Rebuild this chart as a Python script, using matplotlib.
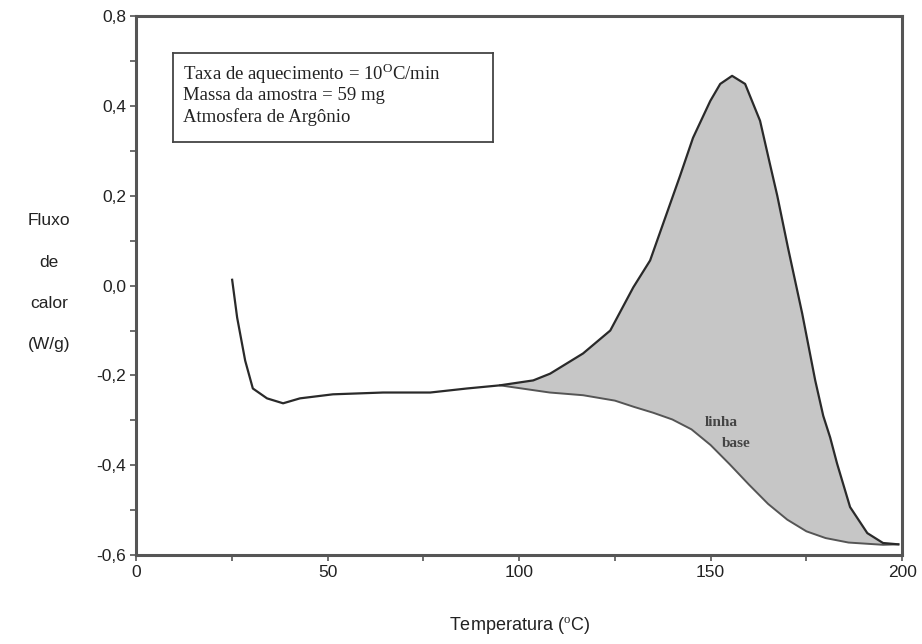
import matplotlib
matplotlib.use("Agg")
import matplotlib.pyplot as plt
from matplotlib.ticker import MultipleLocator, FixedLocator, FixedFormatter

plt.rcParams["font.family"] = ["Liberation Sans", "DejaVu Sans"]
plt.rcParams["mathtext.fontset"] = "custom"
plt.rcParams["mathtext.rm"] = "Liberation Sans"

# DSC curve (heat flow)
temp = [25.1, 26.4, 28.5, 30.5, 34.2, 38.4, 42.8, 51.4, 64.5, 76.8, 86.4, 95.0,
        103.7, 108.1, 116.7, 123.8, 129.8, 134.2, 137.6, 142.0, 145.4, 149.9,
        152.5, 155.6, 159.0, 162.9, 165.5, 167.4, 170.2, 173.9, 177.3, 179.4,
        181.2, 183.0, 186.4, 190.9, 195.0, 199.0]
flux = [0.013, -0.071, -0.167, -0.229, -0.251, -0.262, -0.251, -0.242, -0.238,
        -0.238, -0.229, -0.222, -0.211, -0.196, -0.151, -0.100, -0.004, 0.056,
        0.138, 0.244, 0.329, 0.411, 0.449, 0.467, 0.449, 0.367, 0.270, 0.200,
        0.084, -0.062, -0.211, -0.290, -0.338, -0.396, -0.493, -0.551, -0.573,
        -0.576]

# baseline under the peak
base_temp = [95.0, 108.0, 116.7, 125.0, 130.0, 135.0, 140.0, 145.0, 150.0, 155.0,
             160.0, 165.0, 170.0, 175.0, 180.0, 186.0, 195.0, 199.0]
base_flux = [-0.222, -0.238, -0.244, -0.256, -0.270, -0.283, -0.298, -0.320,
             -0.355, -0.398, -0.443, -0.486, -0.521, -0.547, -0.562, -0.572,
             -0.577, -0.576]

y_ticks = [-0.6, -0.4, -0.2, 0.0, 0.2, 0.4, 0.6]
y_tick_labels = ["-0,6", "-0,4", "-0,2", "0,0", "0,2", "0,4", "0,8"]
x_ticks = [0, 50, 100, 150, 200]
x_tick_labels = ["0", "50", "100", "150", "200"]

ylabel_lines = ["Fluxo", "de", "calor", "(W/g)"]
info_lines = ["Taxa de aquecimento = 10$^{\\mathrm{O}}$C/min",
              "Massa da amostra = 59 mg",
              "Atmosfera de Argônio"]

fig = plt.figure(figsize=(9.22, 6.44), dpi=100)
ax = fig.add_axes([0.1475, 0.138, 0.831, 0.837])

# shaded area between curve and baseline
peak_t = [t for t in temp if t >= 95.0]
peak_f = [f for t, f in zip(temp, flux) if t >= 95.0]
poly_t = peak_t + base_temp[::-1]
poly_f = peak_f + base_flux[::-1]
ax.fill(poly_t, poly_f, facecolor="#c6c6c6", edgecolor="none", zorder=1)

ax.plot(base_temp, base_flux, color="#555555", lw=1.4, zorder=2)
ax.plot(temp, flux, color="#2a2a2a", lw=1.6, zorder=3)

ax.set_xlim(0, 200)
ax.set_ylim(-0.6, 0.6)
ax.xaxis.set_major_locator(FixedLocator(x_ticks))
ax.xaxis.set_major_formatter(FixedFormatter(x_tick_labels))
ax.xaxis.set_minor_locator(MultipleLocator(25))
ax.yaxis.set_major_locator(FixedLocator(y_ticks))
ax.yaxis.set_major_formatter(FixedFormatter(y_tick_labels))
ax.yaxis.set_minor_locator(MultipleLocator(0.1))
ax.tick_params(which="both", direction="out", length=4, width=1.2,
               color="#555555", labelsize=12.5, labelcolor="#222222")
ax.tick_params(axis="y", pad=3)
ax.tick_params(axis="x", pad=3)
for sp in ax.spines.values():
    sp.set_linewidth(2.2)
    sp.set_color("#555555")

ax.set_xlabel("Temperatura ($^{\\mathrm{o}}$C)", fontsize=13, color="#222222", labelpad=26)

for i, line in enumerate(ylabel_lines):
    fig.text(0.053, 0.657 - i * 0.064, line, ha="center", va="center",
             fontsize=12.5, color="#222222")

ax.text(152.7, -0.304, "linha", ha="center", va="center", fontsize=11,
        family=["Liberation Serif", "DejaVu Serif"], fontweight="bold", color="#444444")
ax.text(156.6, -0.351, "base", ha="center", va="center", fontsize=11,
        family=["Liberation Serif", "DejaVu Serif"], fontweight="bold", color="#444444")

# info box
plt.rcParams["mathtext.rm"] = "Liberation Serif"
box_ax = fig.add_axes([173 / 922, 1 - 142 / 644, 320 / 922, 89 / 644])
box_ax.set_xticks([])
box_ax.set_yticks([])
for sp in box_ax.spines.values():
    sp.set_linewidth(1.3)
    sp.set_color("#444444")
for i, line in enumerate(info_lines):
    box_ax.text(0.03, 0.77 - i * 0.245, line, transform=box_ax.transAxes,
                ha="left", va="center", fontsize=13.5,
                family=["Liberation Serif", "DejaVu Serif"], color="#222222")

fig.savefig("out.png", dpi=100)
